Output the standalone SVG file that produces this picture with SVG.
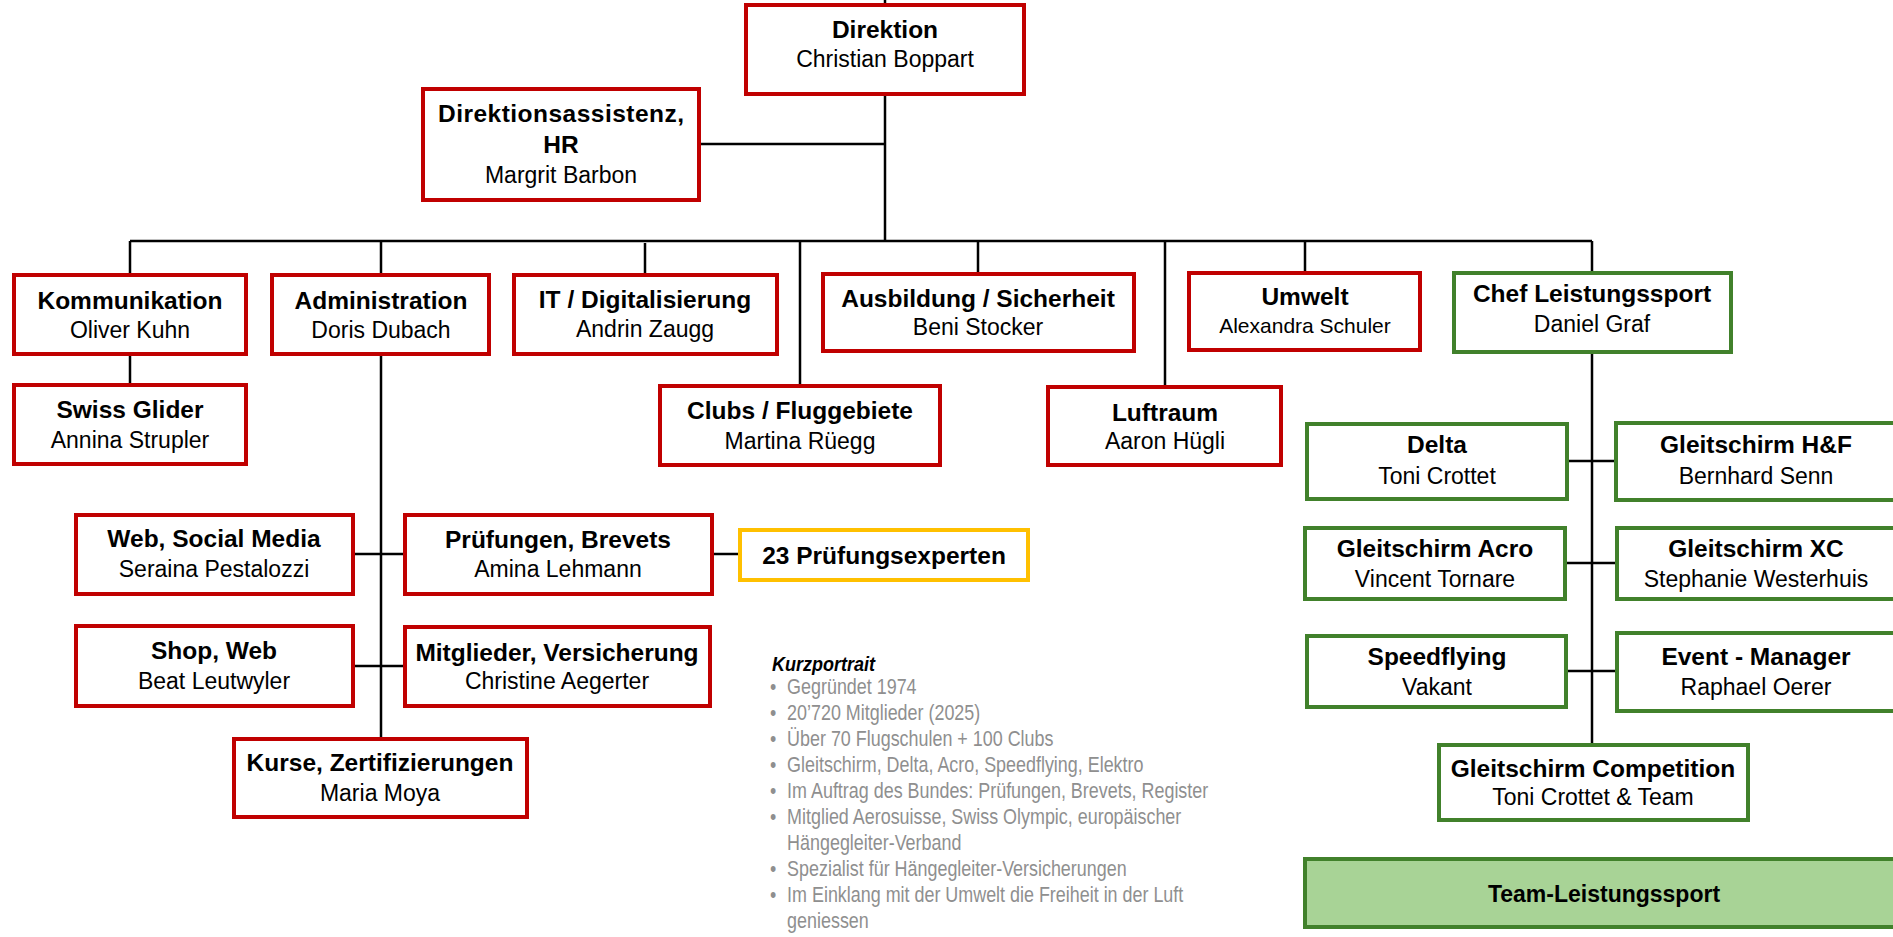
<svg xmlns="http://www.w3.org/2000/svg" width="1893" height="937" viewBox="0 0 1893 937">
<style>
.r{fill:#fff;stroke:#c00000;stroke-width:4}
.g{fill:#fff;stroke:#41812b;stroke-width:4}
.y{fill:#fff;stroke:#ffc000;stroke-width:4}
.tg{fill:#a8d396;stroke:#41812b;stroke-width:4}
.t{font-family:"Liberation Sans",Arial,sans-serif;font-weight:bold;font-size:24.5px;fill:#000;text-anchor:middle}
.n{font-family:"Liberation Sans",Arial,sans-serif;font-size:23px;fill:#000;text-anchor:middle}
.c{fill:none;stroke:#000;stroke-width:2.5}
.k{font-family:"Liberation Sans",Arial,sans-serif;font-size:22px;fill:#8f8f8f}
.kh{font-family:"Liberation Sans",Arial,sans-serif;font-size:20px;font-weight:bold;font-style:italic;fill:#000}
</style>
<rect width="1893" height="937" fill="#fff"/>
<g id="connectors" class="c">
<path d="M885 0V5"/>
<path d="M885 94V241"/>
<path d="M699 144H885"/>
<path d="M130 241H1592"/>
<path d="M130 241V275M381 241V275M645 243V275M800 241V386M978 241V274M1165 241V387M1305 241V273M1592 241V273"/>
<path d="M130 354V385"/>
<path d="M381 354V739"/>
<path d="M353 554H405M353 666H405"/>
<path d="M712 554H740"/>
<path d="M1592 352V745"/>
<path d="M1567 461H1616M1565 563H1617M1566 671H1617"/>
</g>
<g id="direktion"><rect class="r" x="746" y="5" width="278" height="89"/><text class="t" x="885" y="38">Direktion</text><text class="n" x="885" y="67">Christian Boppart</text></g>
<g id="assistenz"><rect class="r" x="423" y="89" width="276" height="111"/><text class="t" x="561" y="122" textLength="246">Direktionsassistenz,</text><text class="t" x="561" y="153">HR</text><text class="n" x="561" y="183">Margrit Barbon</text></g>
<g id="kommunikation"><rect class="r" x="14" y="275" width="232" height="79"/><text class="t" x="130" y="309">Kommunikation</text><text class="n" x="130" y="338">Oliver Kuhn</text></g>
<g id="administration"><rect class="r" x="272" y="275" width="217" height="79"/><text class="t" x="381" y="309">Administration</text><text class="n" x="381" y="338">Doris Dubach</text></g>
<g id="it"><rect class="r" x="514" y="275" width="263" height="79"/><text class="t" x="645" y="308">IT / Digitalisierung</text><text class="n" x="645" y="337">Andrin Zaugg</text></g>
<g id="ausbildung"><rect class="r" x="823" y="274" width="311" height="77"/><text class="t" x="978" y="307">Ausbildung / Sicherheit</text><text class="n" x="978" y="335">Beni Stocker</text></g>
<g id="umwelt"><rect class="r" x="1189" y="273" width="231" height="77"/><text class="t" x="1305" y="305">Umwelt</text><text class="n" x="1305" y="333" style="font-size:21px">Alexandra Schuler</text></g>
<g id="chef"><rect class="g" x="1454" y="273" width="277" height="79"/><text class="t" x="1592" y="302">Chef Leistungssport</text><text class="n" x="1592" y="332">Daniel Graf</text></g>
<g id="swissglider"><rect class="r" x="14" y="385" width="232" height="79"/><text class="t" x="130" y="418">Swiss Glider</text><text class="n" x="130" y="448">Annina Strupler</text></g>
<g id="clubs"><rect class="r" x="660" y="386" width="280" height="79"/><text class="t" x="800" y="419">Clubs / Fluggebiete</text><text class="n" x="800" y="449">Martina Rüegg</text></g>
<g id="luftraum"><rect class="r" x="1048" y="387" width="233" height="78"/><text class="t" x="1165" y="421">Luftraum</text><text class="n" x="1165" y="449">Aaron Hügli</text></g>
<g id="web"><rect class="r" x="76" y="515" width="277" height="79"/><text class="t" x="214" y="547">Web, Social Media</text><text class="n" x="214" y="577">Seraina Pestalozzi</text></g>
<g id="pruefungen"><rect class="r" x="405" y="515" width="307" height="79"/><text class="t" x="558" y="548">Prüfungen, Brevets</text><text class="n" x="558" y="577">Amina Lehmann</text></g>
<g id="experten"><rect class="y" x="740" y="530" width="288" height="50"/><text class="t" x="884" y="564">23 Prüfungsexperten</text></g>
<g id="shop"><rect class="r" x="76" y="626" width="277" height="80"/><text class="t" x="214" y="659">Shop, Web</text><text class="n" x="214" y="689">Beat Leutwyler</text></g>
<g id="mitglieder"><rect class="r" x="405" y="627" width="305" height="79"/><text class="t" x="557" y="661">Mitglieder, Versicherung</text><text class="n" x="557" y="689">Christine Aegerter</text></g>
<g id="kurse"><rect class="r" x="234" y="739" width="293" height="78"/><text class="t" x="380" y="771">Kurse, Zertifizierungen</text><text class="n" x="380" y="801">Maria Moya</text></g>
<g id="delta"><rect class="g" x="1307" y="424" width="260" height="75"/><text class="t" x="1437" y="453">Delta</text><text class="n" x="1437" y="484">Toni Crottet</text></g>
<g id="hf"><rect class="g" x="1616" y="423" width="282" height="77"/><text class="t" x="1756" y="453">Gleitschirm H&amp;F</text><text class="n" x="1756" y="484">Bernhard Senn</text></g>
<g id="acro"><rect class="g" x="1305" y="528" width="260" height="71"/><text class="t" x="1435" y="557">Gleitschirm Acro</text><text class="n" x="1435" y="587">Vincent Tornare</text></g>
<g id="xc"><rect class="g" x="1617" y="528" width="282" height="71"/><text class="t" x="1756" y="557">Gleitschirm XC</text><text class="n" x="1756" y="587">Stephanie Westerhuis</text></g>
<g id="speedflying"><rect class="g" x="1307" y="636" width="259" height="71"/><text class="t" x="1437" y="665">Speedflying</text><text class="n" x="1437" y="695">Vakant</text></g>
<g id="event"><rect class="g" x="1617" y="633" width="282" height="78"/><text class="t" x="1756" y="665">Event - Manager</text><text class="n" x="1756" y="695">Raphael Oerer</text></g>
<g id="competition"><rect class="g" x="1439" y="745" width="309" height="75"/><text class="t" x="1593" y="777">Gleitschirm Competition</text><text class="n" x="1593" y="805">Toni Crottet &amp; Team</text></g>
<g id="team"><rect class="tg" x="1305" y="859" width="600" height="68"/><text class="t" x="1604" y="902" style="font-size:23px">Team-Leistungssport</text></g>
<g id="kurzportrait">
<g transform="translate(772,0) scale(0.9,1)"><text class="kh" x="0" y="671">Kurzportrait</text></g>
<g transform="translate(770,0) scale(0.815,1)">
<text class="k" x="0" y="694">•</text><text class="k" x="21" y="694">Gegründet 1974</text>
<text class="k" x="0" y="720">•</text><text class="k" x="21" y="720">20’720 Mitglieder (2025)</text>
<text class="k" x="0" y="746">•</text><text class="k" x="21" y="746">Über 70 Flugschulen + 100 Clubs</text>
<text class="k" x="0" y="772">•</text><text class="k" x="21" y="772">Gleitschirm, Delta, Acro, Speedflying, Elektro</text>
<text class="k" x="0" y="798">•</text><text class="k" x="21" y="798">Im Auftrag des Bundes: Prüfungen, Brevets, Register</text>
<text class="k" x="0" y="824">•</text><text class="k" x="21" y="824">Mitglied Aerosuisse, Swiss Olympic, europäischer</text>
<text class="k" x="21" y="850">Hängegleiter-Verband</text>
<text class="k" x="0" y="876">•</text><text class="k" x="21" y="876">Spezialist für Hängegleiter-Versicherungen</text>
<text class="k" x="0" y="902">•</text><text class="k" x="21" y="902">Im Einklang mit der Umwelt die Freiheit in der Luft</text>
<text class="k" x="21" y="928">geniessen</text>
</g>
</g>
</svg>
